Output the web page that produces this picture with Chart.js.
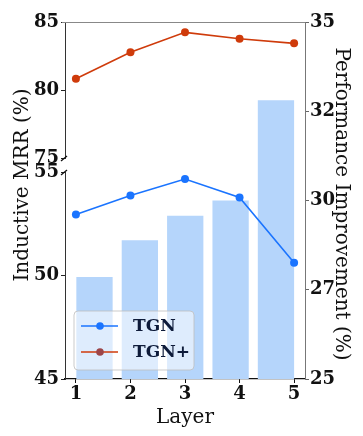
<!DOCTYPE html>
<html>
<head>
<meta charset="utf-8">
<script src="https://cdn.jsdelivr.net/npm/chart.js@4.4.0/dist/chart.umd.min.js"></script>
<style>
  html, body { margin: 0; padding: 0; background: #fff; }
  #wrap { width: 363px; height: 436px; }
</style>
</head>
<body>
<div id="wrap"><canvas id="layer-chart" width="363" height="436"></canvas></div>
<script>
/* =============================================
   Layer ablation — TGN vs TGN+ (broken MRR axis)
   ============================================= */
const layers = [1, 2, 3, 4, 5];
const tgnMRR = [52.95, 53.86, 54.66, 53.77, 50.62];
const tgnPlusMRR = [80.83, 82.77, 84.24, 83.77, 83.43];
const improvement = [27.86, 28.89, 29.57, 30.0, 32.81];
const topTicks = [75, 80, 85];
const bottomTicks = [45, 50, 55];
const rightTicks = [25, 27.5, 30, 32.5, 35];

const BLUE = '#1a74ff';
const RED = '#cf3b0b';
const BAR = '#b5d5fb';
const SERIF = '"DejaVu Serif", "Liberation Serif", serif';
const tickFont = { family: SERIF, size: 18, weight: 'bold' };

const fixWidth = w => s => { s.width = w; };
const setTicks = vals => s => { s.ticks = vals.map(v => ({ value: v })); };

// titles, top spine, break marks and legend
const decorPlugin = {
  id: 'decor',
  afterDraw(chart) {
    const { ctx, chartArea: a, scales } = chart;
    ctx.save();

    // top spine
    ctx.strokeStyle = '#888';
    ctx.lineWidth = 1;
    ctx.beginPath();
    ctx.moveTo(a.left - 3, a.top + 0.5);
    ctx.lineTo(a.right, a.top + 0.5);
    ctx.stroke();

    // break marks on the left spine
    const ax = scales.yTop.right;
    ctx.strokeStyle = '#111';
    ctx.lineWidth = 1.3;
    [scales.yTop.bottom, scales.yBot.top].forEach(y => {
      ctx.beginPath();
      ctx.moveTo(ax - 4, y + 3);
      ctx.lineTo(ax + 2, y - 2);
      ctx.stroke();
    });

    // axis titles
    ctx.fillStyle = '#111';
    ctx.font = '20px ' + SERIF;
    ctx.textAlign = 'center';
    ctx.textBaseline = 'middle';
    ctx.fillText('Layer', (a.left + a.right) / 2, 418);

    ctx.save();
    ctx.translate(23, 185);
    ctx.rotate(-Math.PI / 2);
    ctx.fillText('Inductive MRR (%)', 0, 0);
    ctx.restore();

    ctx.save();
    ctx.translate(341, 204);
    ctx.rotate(Math.PI / 2);
    ctx.fillText('Performance Improvement (%)', 0, 0);
    ctx.restore();

    // legend
    const lx = 74, ly = 311, lw = 120, lh = 59;
    ctx.beginPath();
    ctx.roundRect(lx, ly, lw, lh, 4);
    ctx.fillStyle = 'rgba(255,255,255,0.55)';
    ctx.fill();
    ctx.strokeStyle = 'rgba(190,190,190,0.8)';
    ctx.lineWidth = 1;
    ctx.stroke();

    const rows = [
      { label: 'TGN', line: BLUE, dot: BLUE, y: 326 },
      { label: 'TGN+', line: RED, dot: '#9c4549', y: 352 }
    ];
    rows.forEach(r => {
      ctx.strokeStyle = r.line;
      ctx.lineWidth = 1.6;
      ctx.beginPath();
      ctx.moveTo(81, r.y);
      ctx.lineTo(118, r.y);
      ctx.stroke();
      ctx.fillStyle = r.dot;
      ctx.beginPath();
      ctx.arc(100, r.y, 3.8, 0, Math.PI * 2);
      ctx.fill();
      ctx.fillStyle = '#0e1b3a';
      ctx.font = 'bold 17px ' + SERIF;
      ctx.textAlign = 'left';
      ctx.fillText(r.label, 133, r.y + 1);
    });

    ctx.restore();
  }
};

const pts = vals => layers.map((l, i) => ({ x: l, y: vals[i] }));

const leftAxis = (min, max, ticks, weight, stackWeight) => ({
  type: 'linear',
  position: 'left',
  stack: 'left',
  stackWeight,
  weight,
  min, max,
  afterBuildTicks: setTicks(ticks),
  afterFit: fixWidth(65),
  grid: { display: true, drawOnChartArea: false, tickLength: 4, color: '#222' },
  border: { display: true, color: '#333', width: 1 },
  ticks: { font: tickFont, color: '#111', padding: 2 }
});

new Chart(document.getElementById('layer-chart'), {
  data: {
    datasets: [
      {
        type: 'line', label: 'TGN', data: pts(tgnMRR),
        xAxisID: 'x', yAxisID: 'yBot', order: 0,
        borderColor: BLUE, backgroundColor: BLUE, borderWidth: 1.6,
        pointRadius: 4, pointBorderWidth: 0, pointBackgroundColor: BLUE
      },
      {
        type: 'line', label: 'TGN+', data: pts(tgnPlusMRR),
        xAxisID: 'x', yAxisID: 'yTop', order: 1,
        borderColor: RED, backgroundColor: RED, borderWidth: 1.6,
        pointRadius: 4, pointBorderWidth: 0, pointBackgroundColor: RED
      },
      {
        // grouped:false so the line datasets don't take a slot next to each bar
        type: 'bar', label: 'Improvement', data: pts(improvement),
        xAxisID: 'xb', yAxisID: 'yR', order: 2, grouped: false,
        backgroundColor: BAR, borderWidth: 0,
        barPercentage: 0.8, categoryPercentage: 1
      }
    ]
  },
  options: {
    responsive: false,
    animation: false,
    devicePixelRatio: 1,
    layout: { padding: { top: 22, left: 0, right: 0, bottom: 0 } },
    plugins: { legend: { display: false }, tooltip: { enabled: false }, title: { display: false } },
    scales: {
      x: {
        type: 'linear', position: 'bottom', min: 0.8, max: 5.2,
        afterBuildTicks: setTicks(layers),
        afterFit: s => { s.height = 57; },
        grid: { display: true, drawOnChartArea: false, tickLength: 4, color: '#111' },
        border: { color: '#111', width: 1.2 },
        ticks: { font: tickFont, color: '#111', padding: 1 }
      },
      // own axis for the bars: same width as the plot, nothing drawn
      xb: {
        type: 'linear', position: 'top', min: 0.35, max: 5.64, offset: false,
        afterFit: s => { s.height = 0; },
        grid: { display: false, offset: false }, border: { display: false }, ticks: { display: false }
      },
      yBot: leftAxis(45, 55, bottomTicks, 1, 207),
      yGap: {
        type: 'linear', position: 'left', stack: 'left', stackWeight: 14, weight: 2,
        min: 0, max: 1, afterFit: fixWidth(65),
        grid: { display: false }, border: { display: false }, ticks: { display: false }
      },
      yTop: leftAxis(75, 85, topTicks, 3, 136),
      yR: {
        type: 'linear', position: 'right', min: 25, max: 35,
        afterBuildTicks: setTicks(rightTicks),
        afterFit: fixWidth(58),
        grid: { display: true, drawOnChartArea: false, tickLength: 4, color: '#666' },
        border: { color: '#777', width: 1 },
        ticks: { font: tickFont, color: '#111', padding: 1, callback: v => Math.floor(v) }
      }
    }
  },
  plugins: [decorPlugin]
});
</script>
</body>
</html>
